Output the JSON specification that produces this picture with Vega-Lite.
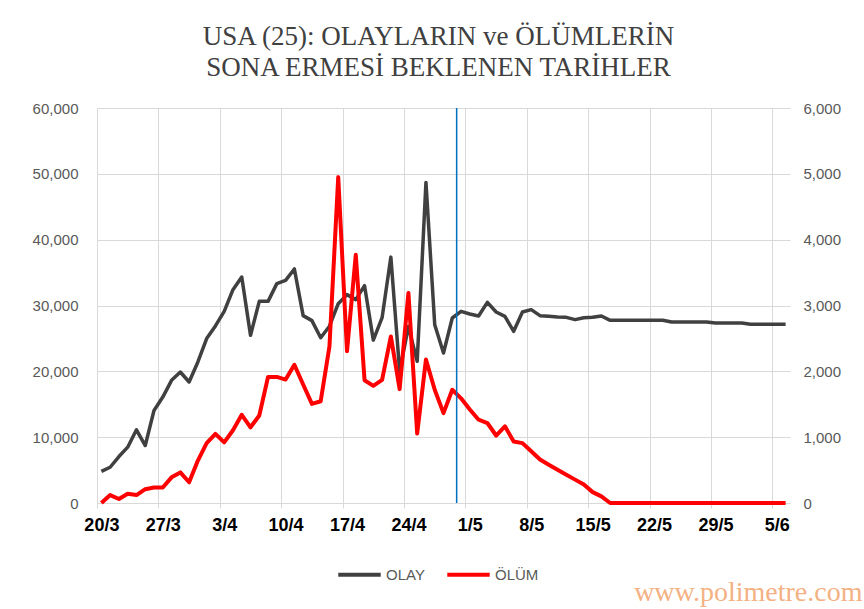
{
  "$schema": "https://vega.github.io/schema/vega-lite/v6.json",
  "autosize": "none",
  "width": 693,
  "height": 395,
  "padding": {"left": 97, "top": 108, "right": 74, "bottom": 106},
  "background": "white",
  "title": {
    "text": ["USA (25): OLAYLARIN  ve ÖLÜMLERİN", "SONA ERMESİ BEKLENEN TARİHLER"],
    "font": "Liberation Serif",
    "fontSize": 27,
    "fontWeight": "normal",
    "color": "#404040",
    "anchor": "middle",
    "frame": "group",
    "offset": 19,
    "lineHeight": 31,
    "dx": -5
  },
  "config": {
    "view": {"stroke": null}
  },
  "datasets": {
    "cases": [
      {"date": "2020-03-20", "OLAY": 4800, "OLUM": 0},
      {"date": "2020-03-21", "OLAY": 5430, "OLUM": 120},
      {"date": "2020-03-22", "OLAY": 7060, "OLUM": 60},
      {"date": "2020-03-23", "OLAY": 8480, "OLUM": 140},
      {"date": "2020-03-24", "OLAY": 11120, "OLUM": 120},
      {"date": "2020-03-25", "OLAY": 8730, "OLUM": 210},
      {"date": "2020-03-26", "OLAY": 14060, "OLUM": 235},
      {"date": "2020-03-27", "OLAY": 16090, "OLUM": 235},
      {"date": "2020-03-28", "OLAY": 18630, "OLUM": 390},
      {"date": "2020-03-29", "OLAY": 19900, "OLUM": 465},
      {"date": "2020-03-30", "OLAY": 18380, "OLUM": 315},
      {"date": "2020-03-31", "OLAY": 21420, "OLUM": 645},
      {"date": "2020-04-01", "OLAY": 24970, "OLUM": 910},
      {"date": "2020-04-02", "OLAY": 26900, "OLUM": 1050},
      {"date": "2020-04-03", "OLAY": 29110, "OLUM": 920},
      {"date": "2020-04-04", "OLAY": 32400, "OLUM": 1105},
      {"date": "2020-04-05", "OLAY": 34330, "OLUM": 1340},
      {"date": "2020-04-06", "OLAY": 25470, "OLUM": 1150},
      {"date": "2020-04-07", "OLAY": 30630, "OLUM": 1330},
      {"date": "2020-04-08", "OLAY": 30630, "OLUM": 1915},
      {"date": "2020-04-09", "OLAY": 33320, "OLUM": 1915},
      {"date": "2020-04-10", "OLAY": 33820, "OLUM": 1875},
      {"date": "2020-04-11", "OLAY": 35550, "OLUM": 2100},
      {"date": "2020-04-12", "OLAY": 28460, "OLUM": 1800},
      {"date": "2020-04-13", "OLAY": 27700, "OLUM": 1505},
      {"date": "2020-04-14", "OLAY": 25100, "OLUM": 1545},
      {"date": "2020-04-15", "OLAY": 26850, "OLUM": 2380},
      {"date": "2020-04-16", "OLAY": 30280, "OLUM": 4950},
      {"date": "2020-04-17", "OLAY": 31650, "OLUM": 2305},
      {"date": "2020-04-18", "OLAY": 30890, "OLUM": 3770},
      {"date": "2020-04-19", "OLAY": 33010, "OLUM": 1865},
      {"date": "2020-04-20", "OLAY": 24740, "OLUM": 1780},
      {"date": "2020-04-21", "OLAY": 28150, "OLUM": 1870},
      {"date": "2020-04-22", "OLAY": 37350, "OLUM": 2530},
      {"date": "2020-04-23", "OLAY": 20000, "OLUM": 1730},
      {"date": "2020-04-24", "OLAY": 26800, "OLUM": 3190},
      {"date": "2020-04-25", "OLAY": 21520, "OLUM": 1055},
      {"date": "2020-04-26", "OLAY": 48700, "OLUM": 2180},
      {"date": "2020-04-27", "OLAY": 27090, "OLUM": 1720},
      {"date": "2020-04-28", "OLAY": 22780, "OLUM": 1365},
      {"date": "2020-04-29", "OLAY": 28100, "OLUM": 1720},
      {"date": "2020-04-30", "OLAY": 29110, "OLUM": 1590},
      {"date": "2020-05-01", "OLAY": 28710, "OLUM": 1420},
      {"date": "2020-05-02", "OLAY": 28400, "OLUM": 1265},
      {"date": "2020-05-03", "OLAY": 30480, "OLUM": 1215},
      {"date": "2020-05-04", "OLAY": 29010, "OLUM": 1025},
      {"date": "2020-05-05", "OLAY": 28350, "OLUM": 1165},
      {"date": "2020-05-06", "OLAY": 26080, "OLUM": 935},
      {"date": "2020-05-07", "OLAY": 29010, "OLUM": 910},
      {"date": "2020-05-08", "OLAY": 29370, "OLUM": 785},
      {"date": "2020-05-09", "OLAY": 28460, "OLUM": 660},
      {"date": "2020-05-10", "OLAY": 28350, "OLUM": 580},
      {"date": "2020-05-11", "OLAY": 28250, "OLUM": 505},
      {"date": "2020-05-12", "OLAY": 28200, "OLUM": 430},
      {"date": "2020-05-13", "OLAY": 27850, "OLUM": 355},
      {"date": "2020-05-14", "OLAY": 28150, "OLUM": 280},
      {"date": "2020-05-15", "OLAY": 28200, "OLUM": 165},
      {"date": "2020-05-16", "OLAY": 28400, "OLUM": 100},
      {"date": "2020-05-17", "OLAY": 27750, "OLUM": 0},
      {"date": "2020-05-18", "OLAY": 27750, "OLUM": 0},
      {"date": "2020-05-19", "OLAY": 27750, "OLUM": 0},
      {"date": "2020-05-20", "OLAY": 27750, "OLUM": 0},
      {"date": "2020-05-21", "OLAY": 27750, "OLUM": 0},
      {"date": "2020-05-22", "OLAY": 27750, "OLUM": 0},
      {"date": "2020-05-23", "OLAY": 27750, "OLUM": 0},
      {"date": "2020-05-24", "OLAY": 27500, "OLUM": 0},
      {"date": "2020-05-25", "OLAY": 27500, "OLUM": 0},
      {"date": "2020-05-26", "OLAY": 27500, "OLUM": 0},
      {"date": "2020-05-27", "OLAY": 27500, "OLUM": 0},
      {"date": "2020-05-28", "OLAY": 27500, "OLUM": 0},
      {"date": "2020-05-29", "OLAY": 27350, "OLUM": 0},
      {"date": "2020-05-30", "OLAY": 27350, "OLUM": 0},
      {"date": "2020-05-31", "OLAY": 27350, "OLUM": 0},
      {"date": "2020-06-01", "OLAY": 27350, "OLUM": 0},
      {"date": "2020-06-02", "OLAY": 27150, "OLUM": 0},
      {"date": "2020-06-03", "OLAY": 27150, "OLUM": 0},
      {"date": "2020-06-04", "OLAY": 27150, "OLUM": 0},
      {"date": "2020-06-05", "OLAY": 27150, "OLUM": 0},
      {"date": "2020-06-06", "OLAY": 27150, "OLUM": 0}
    ],
    "marker": [{"date": "2020-04-29T12:00:00Z"}]
  },
  "encoding": {
    "x": {
      "field": "date",
      "type": "temporal",
      "scale": {
        "type": "utc",
        "domain": [
          {"year": 2020, "month": 3, "date": 19, "hours": 12, "utc": true},
          {"year": 2020, "month": 6, "date": 6, "hours": 12, "utc": true}
        ]
      },
      "axis": {
        "values": [
          {"year": 2020, "month": 3, "date": 20, "utc": true},
          {"year": 2020, "month": 3, "date": 27, "utc": true},
          {"year": 2020, "month": 4, "date": 3, "utc": true},
          {"year": 2020, "month": 4, "date": 10, "utc": true},
          {"year": 2020, "month": 4, "date": 17, "utc": true},
          {"year": 2020, "month": 4, "date": 24, "utc": true},
          {"year": 2020, "month": 5, "date": 1, "utc": true},
          {"year": 2020, "month": 5, "date": 8, "utc": true},
          {"year": 2020, "month": 5, "date": 15, "utc": true},
          {"year": 2020, "month": 5, "date": 22, "utc": true},
          {"year": 2020, "month": 5, "date": 29, "utc": true},
          {"year": 2020, "month": 6, "date": 5, "utc": true}
        ],
        "labelExpr": "utcdate(datum.value) + '/' + (utcmonth(datum.value) + 1)",
        "tickOffset": -4.385,
        "labelOffset": 4.385,
        "grid": true,
        "gridColor": "#d9d9d9",
        "gridWidth": 1,
        "domainColor": "#d9d9d9",
        "tickColor": "#d9d9d9",
        "tickSize": 5,
        "labelFont": "Liberation Sans",
        "labelFontSize": 18,
        "labelFontWeight": "bold",
        "labelColor": "#000000",
        "labelPadding": 8,
        "labelFlush": false,
        "labelOverlap": false,
        "labelBound": false,
        "title": "www.polimetre.com",
        "titleFont": "Liberation Serif",
        "titleFontSize": 28,
        "titleFontWeight": "normal",
        "titleColor": "#f4b183",
        "titleAlign": "right",
        "titleAnchor": "end",
        "titleBaseline": "alphabetic",
        "titleX": 765,
        "titleY": 97
      }
    }
  },
  "layer": [
    {
      "data": {"name": "cases"},
      "mark": {"type": "line", "strokeWidth": 3.5, "strokeJoin": "round"},
      "encoding": {
        "y": {
          "field": "OLAY",
          "type": "quantitative",
          "scale": {"domain": [0, 60000]},
          "axis": {
            "orient": "left",
            "values": [0, 10000, 20000, 30000, 40000, 50000, 60000],
            "labelExpr": "datum.value == 0 ? '0' : (datum.value / 1000) + ',000'",
            "grid": true,
            "gridColor": "#d9d9d9",
            "domain": false,
            "ticks": false,
            "labelFont": "Liberation Sans",
            "labelFontSize": 15,
            "labelColor": "#595959",
            "labelPadding": 19,
            "title": null
          }
        },
        "color": {
          "datum": "OLAY",
          "scale": {"domain": ["OLAY", "ÖLÜM"], "range": ["#404040", "#ff0000"]},
          "legend": {
            "orient": "none",
            "legendX": 239,
            "legendY": 443,
            "direction": "horizontal",
            "title": null,
            "symbolType": "stroke",
            "symbolStrokeWidth": 4,
            "symbolSize": 1800,
            "labelFont": "Liberation Sans",
            "labelFontSize": 15,
            "labelColor": "#595959",
            "labelOffset": 3,
            "columnPadding": 14
          }
        }
      }
    },
    {
      "data": {"name": "cases"},
      "mark": {"type": "line", "strokeWidth": 4, "strokeJoin": "round"},
      "encoding": {
        "y": {
          "field": "OLUM",
          "type": "quantitative",
          "scale": {"domain": [0, 6000]},
          "axis": {
            "orient": "right",
            "values": [0, 1000, 2000, 3000, 4000, 5000, 6000],
            "labelExpr": "datum.value == 0 ? '0' : (datum.value / 1000) + ',000'",
            "grid": false,
            "domain": false,
            "ticks": false,
            "labelFont": "Liberation Sans",
            "labelFontSize": 15,
            "labelColor": "#595959",
            "labelPadding": 13,
            "title": null
          }
        },
        "color": {"datum": "ÖLÜM"}
      }
    },
    {
      "data": {"name": "marker"},
      "mark": {"type": "rule", "color": "#0070c0", "strokeWidth": 1.5},
      "encoding": {}
    }
  ],
  "resolve": {"scale": {"y": "independent"}}
}
